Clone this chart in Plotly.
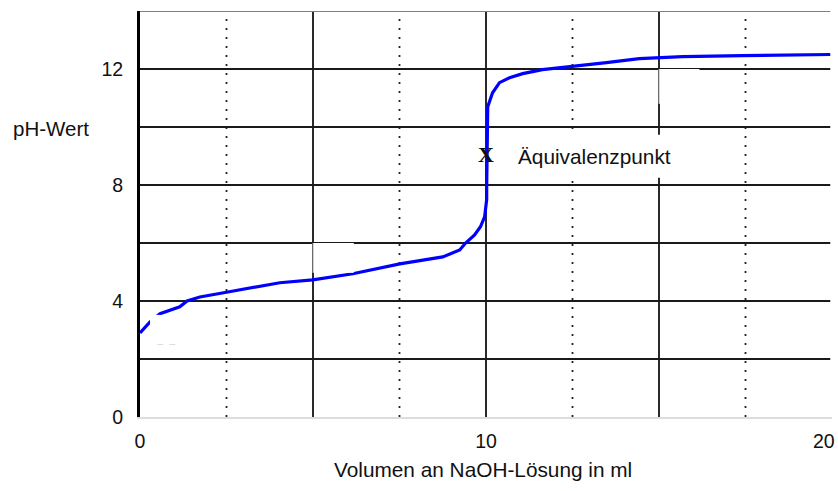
import plotly.graph_objects as go

# Titration curve
volume_ml = [0.0, 0.29, 0.58, 1.15, 1.36, 1.73, 2.54, 3.46, 4.04, 4.99, 6.15, 7.51,
             8.75, 9.24, 9.41, 9.67, 9.84, 9.96, 10.02, 10.02, 10.05, 10.19, 10.39,
             10.68, 11.06, 11.63, 12.5, 13.48, 14.43, 15.01, 15.68, 17.41, 19.95]
ph_value = [2.9, 3.28, 3.56, 3.80, 4.0, 4.14, 4.31, 4.49, 4.63, 4.73, 4.94, 5.28,
            5.52, 5.76, 6.0, 6.28, 6.56, 6.9, 7.5, 7.94, 10.7, 11.18, 11.53,
            11.7, 11.84, 11.98, 12.08, 12.22, 12.36, 12.39, 12.43, 12.46, 12.5]

eq_x = [10.0]
eq_y = [9.0]
eq_label = "Äquivalenzpunkt"

x_ticks = [0, 10, 20]
y_ticks = [0, 4, 8, 12]
grid_solid_x = [5, 10, 15]
grid_dot_x = [2.5, 7.5, 12.5, 17.5]
grid_y = [2, 4, 6, 8, 10, 12]

FONT = "Liberation Sans, Arial, sans-serif"

fig = go.Figure()

shapes = []
for gx in grid_dot_x:
    shapes.append(dict(type="line", xref="x", yref="y", x0=gx, x1=gx, y0=0, y1=14,
                       line=dict(color="#222222", width=1.8, dash="2px,7px"), layer="below"))
for gx in grid_solid_x:
    shapes.append(dict(type="line", xref="x", yref="y", x0=gx, x1=gx, y0=0, y1=14,
                       line=dict(color="#2a2a2a", width=2), layer="below"))
for gy in grid_y:
    shapes.append(dict(type="line", xref="x", yref="y", x0=0, x1=19.95, y0=gy, y1=gy,
                       line=dict(color="#1a1a1a", width=2), layer="below"))
# top border
shapes.append(dict(type="line", xref="x", yref="y", x0=0, x1=19.95, y0=14, y1=14,
                   line=dict(color="#808080", width=2), layer="below"))

# white patches present in the reference picture
patches = [
    (15.0, 16.17, 10.8, 12.0),
    (5.0, 6.18, 4.97, 6.0),
    (0.29, 1.15, 2.49, 3.52),
    (10.35, 15.2, 8.25, 9.73),
]
for x0, x1, y0, y1 in patches:
    shapes.append(dict(type="rect", xref="x", yref="y", x0=x0, x1=x1, y0=y0, y1=y1,
                       fillcolor="white", line=dict(width=0), layer="above"))
# thin lines visible through two patches
shapes.append(dict(type="line", xref="x", yref="y", x0=15, x1=15, y0=10.8, y1=12,
                   line=dict(color="#aaaaaa", width=1), layer="above"))
shapes.append(dict(type="line", xref="x", yref="y", x0=5, x1=5, y0=4.97, y1=6,
                   line=dict(color="#aaaaaa", width=1), layer="above"))
shapes.append(dict(type="line", xref="x", yref="y", x0=0.5, x1=1.15, y0=2.5, y1=2.5,
                   line=dict(color="#dddddd", width=1, dash="6px,6px"), layer="above"))

fig.add_trace(go.Scatter(x=volume_ml, y=ph_value, mode="lines",
                         line=dict(color="#0000ff", width=3.2), hoverinfo="skip",
                         showlegend=False, cliponaxis=False))
fig.add_trace(go.Scatter(x=eq_x, y=eq_y, mode="text", text=["<b>X</b>"],
                         textfont=dict(family="Liberation Serif, Times New Roman, serif",
                                       size=22, color="#111111"),
                         textposition="middle center", showlegend=False, hoverinfo="skip"))

# the last x tick label sits flush with the right edge, drawn as an annotation
last_tick = x_ticks[-1]
shown_ticks = x_ticks[:-1]

fig.update_layout(
    width=838, height=491,
    margin=dict(l=140, r=6, t=11, b=74, autoexpand=False),
    paper_bgcolor="white", plot_bgcolor="white",
    font=dict(family=FONT, size=19, color="#111111"),
    shapes=shapes,
    showlegend=False,
    xaxis=dict(range=[0, 20], tickvals=shown_ticks, ticktext=[str(v) for v in shown_ticks],
               showgrid=False, zeroline=False, showline=True, linecolor="#dddddd",
               linewidth=1.5, ticks="", ticklabelstandoff=6, automargin=False,
               tickfont=dict(family=FONT, size=19.5, color="#111111")),
    yaxis=dict(range=[0, 14], tickvals=y_ticks, ticktext=[str(v) for v in y_ticks],
               showgrid=False, zeroline=False, showline=True, linecolor="#000000",
               linewidth=3, ticks="", ticklabelstandoff=10, automargin=False,
               tickfont=dict(family=FONT, size=19.5, color="#111111")),
    annotations=[
        dict(text=str(last_tick), x=last_tick, y=-0.059, xref="x", yref="paper",
             xanchor="right", yanchor="middle", xshift=5, showarrow=False,
             font=dict(family=FONT, size=19.5, color="#111111")),
        dict(text=eq_label, x=10.88, y=9.0, xref="x", yref="y", xanchor="left",
             yanchor="middle", showarrow=False,
             font=dict(family=FONT, size=20.8, color="#111111")),
        dict(text="pH-Wert", x=-0.1864, y=9.95, xref="paper", yref="y", xanchor="left",
             yanchor="middle", showarrow=False,
             font=dict(family=FONT, size=20.5, color="#111111")),
        dict(text="Volumen an NaOH-Lösung in ml", x=0.4957, y=-0.1305, xref="paper",
             yref="paper", xanchor="center", yanchor="middle", showarrow=False,
             font=dict(family=FONT, size=20.8, color="#111111")),
    ],
)

fig.write_html("out.html")
